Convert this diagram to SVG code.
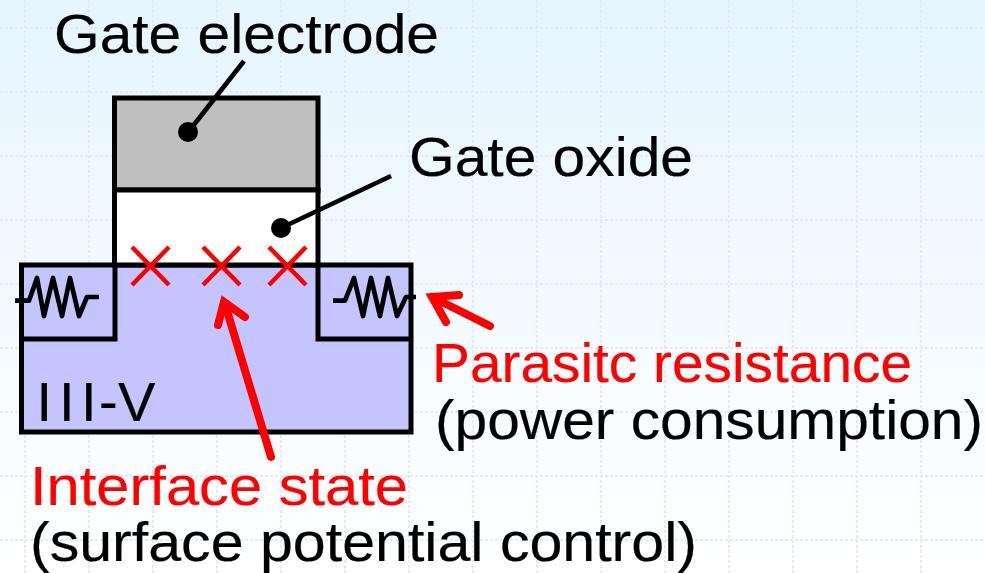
<svg xmlns="http://www.w3.org/2000/svg" width="985" height="573" viewBox="0 0 985 573">
<defs>
<linearGradient id="bg" x1="0" y1="0" x2="0" y2="1"><stop offset="0" stop-color="#e6f5ff"/><stop offset="1" stop-color="#ffffff"/></linearGradient>
</defs>
<style>
.grid{stroke:#e6e8ff;stroke-width:2;stroke-dasharray:3 2;fill:none}
.box{stroke:#000;stroke-width:5;stroke-linejoin:miter}
.res{fill:none;stroke:#000;stroke-width:4.700;stroke-linejoin:round}
.lead{stroke:#000;stroke-width:4.700;fill:none}
.red{stroke:#ff0000;stroke-width:8;fill:none;stroke-linecap:round;stroke-linejoin:miter}
.x{stroke:#ff0000;stroke-width:4.500;fill:none}
text{font-family:"Liberation Sans",Arial,sans-serif;font-size:56px;fill:#000;stroke:#000;stroke-width:.2}
text.r{fill:#ff0000;stroke:#ff0000}
</style>
<rect width="985" height="573" fill="url(#bg)"/>
<g id="grid" class="grid">
<path d="M25 0V573M89 0V573M153 0V573M217 0V573M281 0V573M345 0V573M409 0V573M473 0V573M537 0V573M601 0V573M665 0V573M729 0V573M793 0V573M857 0V573M921 0V573"/>
<path d="M0 28H985M0 92H985M0 156H985M0 220H985M0 284H985M0 348H985M0 412H985M0 476H985M0 540H985"/>
</g>
<g id="substrate">
<path class="box" fill="#c4c4ff" d="M21.500 265H411V432H21.500Z"/>
<path class="box" fill="none" d="M21.500 339H115V265M411 339H318V265"/>
<text x="36.500 59 81 99 118" y="421">III-V</text>
</g>
<g id="gate-electrode"><rect class="box" x="114.500" y="98" width="203.500" height="92" fill="#bfbfbf"/><text x="54" y="53" textLength="385" lengthAdjust="spacingAndGlyphs">Gate electrode</text></g>
<g id="gate-oxide"><rect class="box" x="114.500" y="190" width="203.500" height="75" fill="#ffffff"/><text x="409" y="176" textLength="284" lengthAdjust="spacingAndGlyphs">Gate oxide</text></g>
<g id="interface-states">
<path class="x" d="M132 247L169 285M169 247L132 285M203 247L240 285M240 247L203 285M269 247L306 285M306 247L269 285"/>
</g>
<g id="resistor-left"><path class="res" d="M15 300.700H29L37 278L44 316L53 278L62 316L70 278L79 316L87 297H99"/></g>
<g id="resistor-right"><path class="res" d="M333 300.700H345L354 278L363 316L371 278L380 316L388 278L397 316L406 297H416"/></g>
<g id="connectors">
<path class="lead" d="M244 61L189 131"/><circle cx="188" cy="132" r="10" fill="#000"/>
<path class="lead" d="M391 176L281 228"/><circle cx="281" cy="228" r="10" fill="#000"/>
<path class="red" d="M271 457L225 304"/>
<path class="red" d="M218 325L224 302L245 317"/>
<path class="red" d="M490 326L432 297M446 322L432 297L459 295"/>
</g>
<g id="label-interface"><text class="r" x="30" y="505" textLength="378" lengthAdjust="spacingAndGlyphs">Interface state</text><text x="30" y="561" textLength="667" lengthAdjust="spacingAndGlyphs">(surface potential control)</text></g>
<g id="label-parasitic"><text class="r" x="432" y="382" textLength="480" lengthAdjust="spacingAndGlyphs">Parasitc resistance</text><text x="435" y="439" textLength="548" lengthAdjust="spacingAndGlyphs">(power consumption)</text></g>
</svg>
